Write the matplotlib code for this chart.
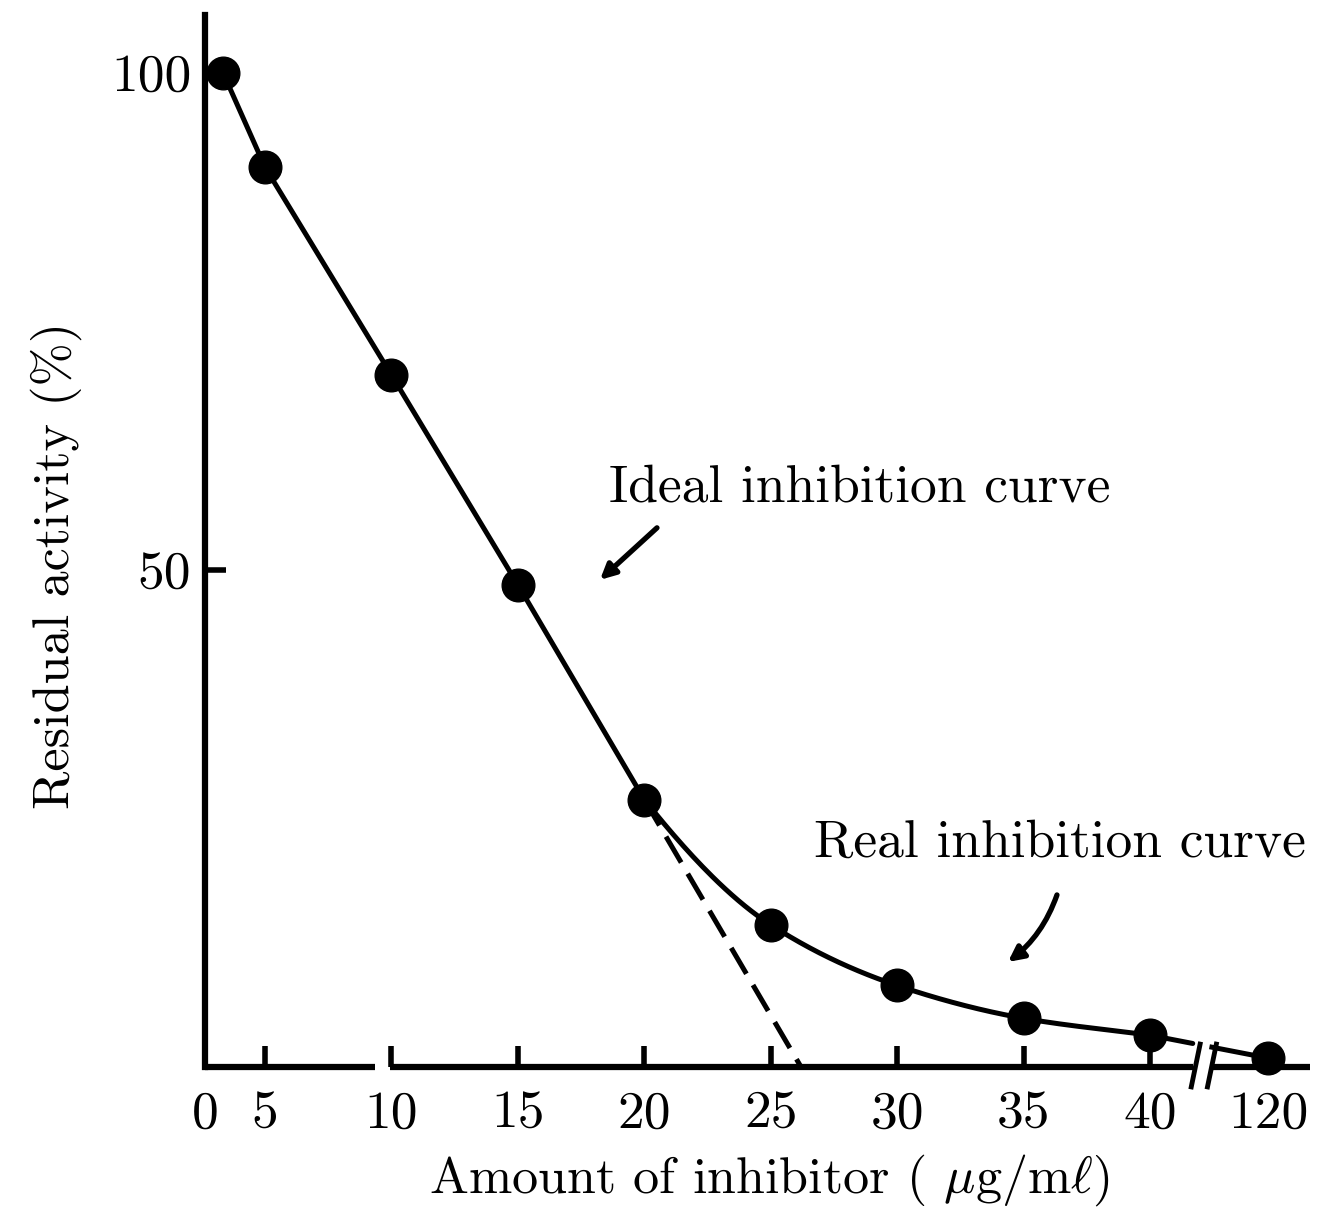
import numpy as np
import matplotlib
matplotlib.use('Agg')
import matplotlib.pyplot as plt

# ---------------- data ----------------
x_ticks = [0, 5, 10, 15, 20, 25, 30, 35, 40, 120]
x_tick_labels = ['0', '5', '10', '15', '20', '25', '30', '35', '40', '120']
y_ticks = [50, 100]
y_tick_labels = ['50', '100']

amount = [1.5, 5, 10, 15, 20, 25, 30, 35, 40, 120]
activity = [100, 90.5, 69.6, 48.5, 26.9, 14.3, 8.2, 4.9, 3.2, 0.9]

ideal_amount = [20, 26.2]
ideal_activity = [26.9, 0]

# axis scale knots (broken / non-uniform x axis)
knot_data = [-100, 0, 5, 40, 120, 400]
knot_pos = [205 - 1200, 205, 265, 1150, 1268, 1268 + 280 * 1.475]

gap_lo, gap_hi = 9.35, 9.95      # small gap in x axis line near 10
brk_lo, brk_hi = 69, 82          # axis break between 40 and 120

plt.rcParams['font.family'] = ['cmr10', 'DejaVu Serif']
plt.rcParams['mathtext.fontset'] = 'cm'
plt.rcParams['axes.formatter.use_mathtext'] = True

FS = 38.5
FS_LAB = 37.5
LW = 3.6

def fwd(x):
    return np.interp(x, knot_data, knot_pos)

def inv(p):
    return np.interp(p, knot_pos, knot_data)

fig = plt.figure(figsize=(13.37, 12.07), dpi=100)
ax = fig.add_axes([205 / 1337, 1 - 1067 / 1207, (1310 - 205) / 1337, (1067 - 15) / 1207])
ax.set_xscale('function', functions=(fwd, inv))
ax.set_xlim(0, 148.5)
ax.set_ylim(0, 105.8)

# ---------------- curve ----------------
xs = np.array(amount, dtype=float)
ys = np.array(activity, dtype=float)

i20 = amount.index(20)
i40 = amount.index(40)
line_x = list(xs[:i20 + 1])
line_y = list(ys[:i20 + 1])

sx = xs[i20 - 1:i40 + 1]
sy = ys[i20 - 1:i40 + 1]
d = np.diff(sy) / np.diff(sx)
m = np.zeros_like(sy)
for k in range(1, len(sy) - 1):
    m[k] = 2.0 / (1.0 / d[k - 1] + 1.0 / d[k])
m[-1] = d[-1]
for k in range(1, len(sx) - 1):
    x0, x1 = sx[k], sx[k + 1]
    y0, y1 = sy[k], sy[k + 1]
    h = x1 - x0
    t = np.linspace(0, 1, 40)[1:]
    h00 = 2 * t**3 - 3 * t**2 + 1
    h10 = t**3 - 2 * t**2 + t
    h01 = -2 * t**3 + 3 * t**2
    h11 = t**3 - t**2
    yy = h00 * y0 + h10 * h * m[k] + h01 * y1 + h11 * h * m[k + 1]
    line_x += list(x0 + t * h)
    line_y += list(yy)

y_brk_lo = np.interp(brk_lo, [amount[i40], amount[-1]], [activity[i40], activity[-1]])
y_brk_hi = np.interp(brk_hi, [amount[i40], amount[-1]], [activity[i40], activity[-1]])
line_x.append(brk_lo)
line_y.append(y_brk_lo)

ax.plot(line_x, line_y, color='black', lw=LW, solid_capstyle='round', zorder=3)
ax.plot([brk_hi, amount[-1]], [y_brk_hi, activity[-1]], color='black', lw=LW, zorder=3)

# ideal (dashed) line
ax.plot(ideal_amount, ideal_activity, color='black', lw=LW, ls=(0, (6, 2.6)), zorder=2)

# points
ax.plot(amount, activity, 'o', color='black', ms=23.5, zorder=4, clip_on=False)

# ---------------- axes ----------------
for s in ['top', 'right', 'bottom']:
    ax.spines[s].set_visible(False)
ax.spines['left'].set_linewidth(4.5)

axis_kw = dict(color='black', lw=4.5, clip_on=False, zorder=2, solid_capstyle='butt')
ax.plot([0, gap_lo], [0, 0], **axis_kw)
ax.plot([gap_hi, brk_lo], [0, 0], **axis_kw)
ax.plot([brk_hi, 148.5], [0, 0], **axis_kw)

for b in (brk_lo + 2, brk_hi):
    ax.plot([b - 3, b + 3], [-2.0, 2.3], color='black', lw=3.5, clip_on=False, zorder=3)

ax.set_xticks(x_ticks)
ax.set_xticklabels(x_tick_labels)
ax.set_yticks(y_ticks)
ax.set_yticklabels(y_tick_labels)
ax.minorticks_off()
ax.tick_params(axis='both', direction='in', length=15, width=4, labelsize=FS)
ax.tick_params(axis='x', pad=17)
ax.tick_params(axis='y', pad=10)

ax.set_xlabel(r'Amount of inhibitor ( $\mu$g/m$\ell$)', fontsize=FS_LAB, va='center')
ax.xaxis.set_label_coords(0.511, -0.108)
ax.set_ylabel('Residual activity (%)', fontsize=FS_LAB, va='center')
ax.yaxis.set_label_coords(-0.135, 0.477)

# ---------------- annotations ----------------
ax.text(inv(860), (1067 - 488) / 9.94, 'Ideal inhibition curve', fontsize=FS,
        ha='center', va='center')
ax.annotate('', xy=(inv(600), (1067 - 580) / 9.94), xytext=(inv(657), (1067 - 528) / 9.94),
            arrowprops=dict(arrowstyle='-|>,head_length=0.9,head_width=0.45', lw=3.8, color='black',
                            shrinkA=0, shrinkB=0))
ax.text(inv(1060), (1067 - 843) / 9.94, 'Real inhibition curve', fontsize=FS,
        ha='center', va='center')
ax.annotate('', xy=(inv(1008), (1067 - 962) / 9.94), xytext=(inv(1057), (1067 - 895) / 9.94),
            arrowprops=dict(arrowstyle='-|>,head_length=0.9,head_width=0.45', lw=3.8, color='black',
                            shrinkA=0, shrinkB=0, connectionstyle='arc3,rad=-0.15'))

fig.savefig('out.png', dpi=100)
